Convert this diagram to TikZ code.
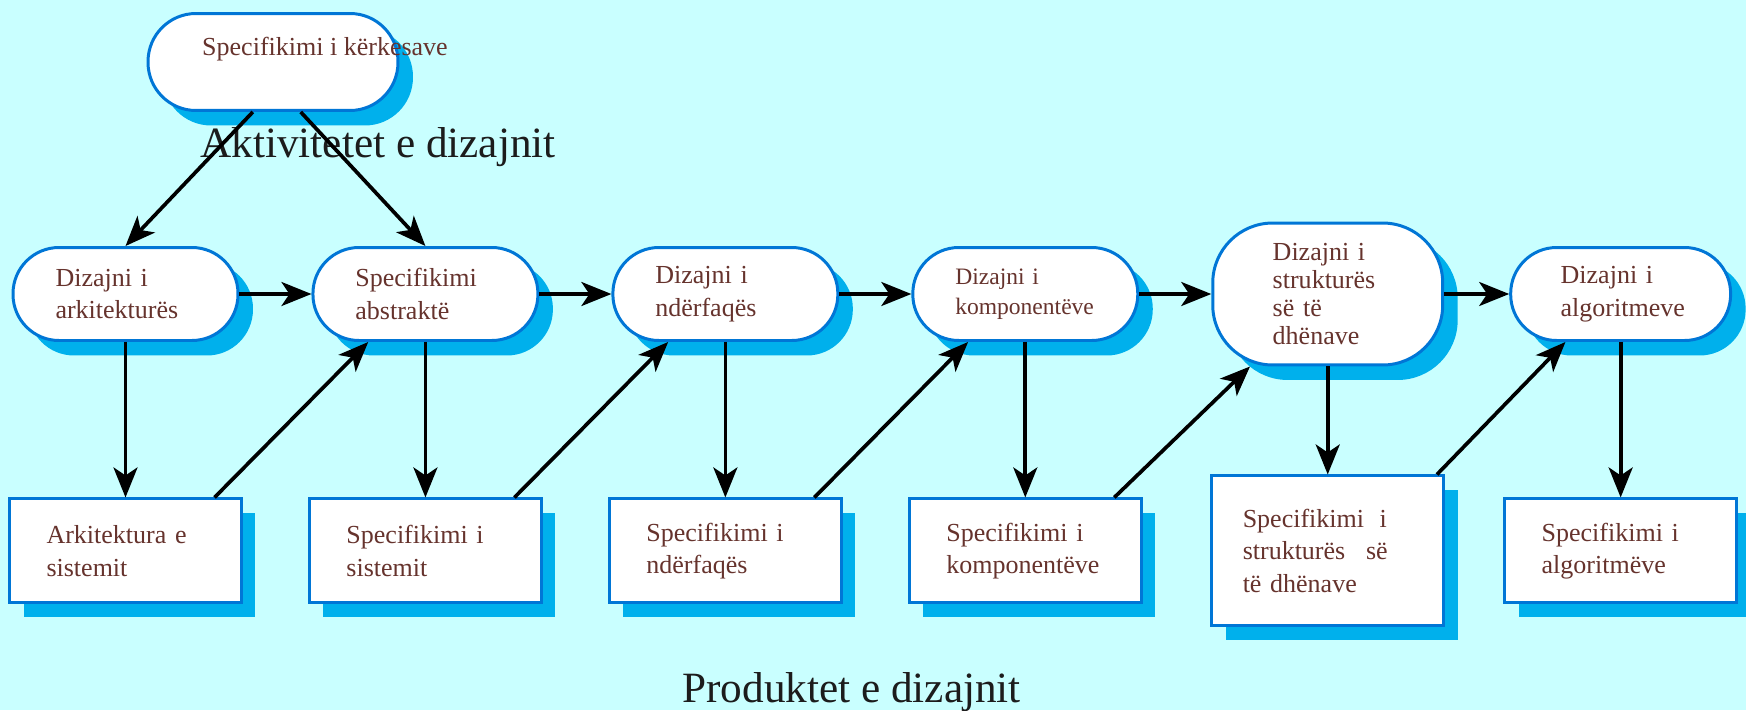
\documentclass[tikz,border=0pt]{standalone}
\usepackage{fontspec}
\setmainfont{Liberation Serif}
\usetikzlibrary{arrows.meta, positioning, shadows, calc}
\definecolor{bgcyan}{RGB}{201,255,255}
\definecolor{bordblue}{RGB}{0,118,214}
\definecolor{shadeblue}{RGB}{0,176,236}
\definecolor{textbrown}{RGB}{102,51,45}
\definecolor{titlegray}{RGB}{28,28,28}

\begin{document}
\begin{tikzpicture}[
    x=0.02cm, y=-0.02cm,
    node distance=1.44cm,
    actnode/.style={rectangle, rounded corners=0.92cm, draw=bordblue, fill=white, line width=1.7pt, minimum width=4.5cm, minimum height=1.86cm, text width=2.8cm, inner xsep=0.85cm, inner ysep=0.1cm, align=left, text=textbrown, font=\fontsize{14.8}{18.5}\selectfont, drop shadow={shadow xshift=0.3cm, shadow yshift=-0.3cm, fill=shadeblue, opacity=1}},
    prodnode/.style={rectangle, draw=bordblue, fill=white, line width=1.7pt, minimum width=4.64cm, minimum height=2.08cm, text width=3.16cm, inner xsep=0.74cm, inner ysep=0.1cm, align=left, text=textbrown, font=\fontsize{14.8}{18.5}\selectfont, drop shadow={shadow xshift=0.28cm, shadow yshift=-0.28cm, fill=shadeblue, opacity=1}},
    reqlabel/.style={inner sep=0pt, xshift=1.04cm, yshift=0.25cm, text=textbrown, font=\fontsize{14.8}{18.5}\selectfont},
    title/.style={anchor=base west, inner sep=0pt, text=titlegray, font=\fontsize{24.6}{28}\selectfont},
    arrow/.style={-{Stealth[length=0.6cm, width=0.48cm, inset=0.16cm]}, line width=2.1pt, black}
]

\fill[bgcyan] (0,0) rectangle (1746,710);
\useasboundingbox (0,0) rectangle (1746,710);

\node[actnode, minimum width=5cm, minimum height=1.94cm, rounded corners=0.96cm, label={[reqlabel]center:Specifikimi i kërkesave}] (req) at (273,62) {};

\node[actnode] (e1) at (125.5,294) {Dizajni i\\arkitekturës};
\node[actnode, right=of e1] (e2) {Specifikimi\\abstraktë};
\node[actnode, right=of e2] (e3) {Dizajni i\\ndërfaqës};
\node[actnode, right=of e3, font=\fontsize{13.4}{17}\selectfont] (e4) {Dizajni i\\komponentëve};
\node[actnode, right=of e4, minimum width=4.6cm, minimum height=2.84cm, rounded corners=1.2cm, text width=2.2cm, inner xsep=1.2cm, font=\fontsize{14.8}{16}\selectfont] (e5) {Dizajni i\\strukturës\\së të\\dhënave};
\node[actnode, right=1.3cm of e5, minimum width=4.4cm, inner xsep=1cm, text width=2.4cm] (e6) {Dizajni i\\algoritmeve};

\node[prodnode, below=3.11cm of e1, minimum width=4.56cm] (b1) {Arkitektura e\\sistemit};
\node[prodnode, below=3.11cm of e2] (b2) {Specifikimi i\\sistemit};
\node[prodnode, below=3.11cm of e3] (b3) {Specifikimi i\\ndërfaqës};
\node[prodnode, below=3.11cm of e4] (b4) {Specifikimi i\\komponentëve};
\node[prodnode, below=2.16cm of e5, minimum height=3cm, text width=3.4cm, inner xsep=0.62cm] (b5) {Specifikimi\hspace{0.6em}i\\strukturës\hspace{0.8em}së\\të dhënave};
\node[prodnode, below=3.11cm of e6] (b6) {Specifikimi i\\algoritmëve};

\node[title] (acttitle) at (200,157) {Aktivitetet e dizajnit};
\node[title] (prodtitle) at (682,702) {Produktet e dizajnit};

\draw[arrow] (req.248) -- (e1.north);
\draw[arrow] (req.-61) -- (e2.north);

\draw[arrow] (e1) -- (e2);
\draw[arrow] (e2) -- (e3);
\draw[arrow] (e3) -- (e4);
\draw[arrow] (e4) -- (e5);
\draw[arrow] (e5) -- (e6);

\draw[arrow] (e1) -- (b1);
\draw[arrow] (e2) -- (b2);
\draw[arrow] (e3) -- (b3);
\draw[arrow] (e4) -- (b4);
\draw[arrow] (e5) -- (b5);
\draw[arrow] (e6) -- (b6);

\draw[arrow] (b1.31) -- (e2.220);
\draw[arrow] (b2.31) -- (e3.220);
\draw[arrow] (b3.31) -- (e4.220);
\draw[arrow] (b4.31) -- (e5.223);
\draw[arrow] (b5.35) -- (e6.221);

\end{tikzpicture}
\end{document}
